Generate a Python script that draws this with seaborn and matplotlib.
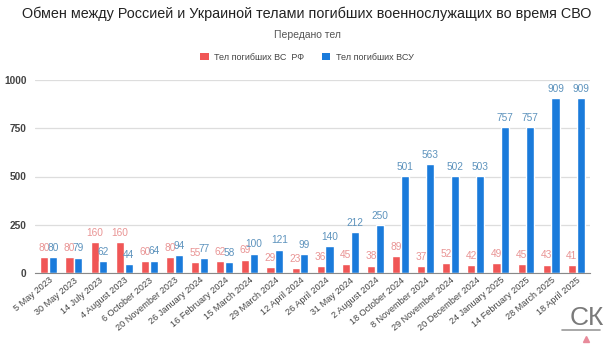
import matplotlib
matplotlib.use("Agg")
import matplotlib.pyplot as plt
import seaborn as sns
import pandas as pd
from matplotlib.patches import Patch
from matplotlib.lines import Line2D

dates = ["5 May 2023", "30 May 2023", "14 July 2023", "4 August 2023", "6 October 2023",
         "20 November 2023", "26 January 2024", "16 February 2024", "15 March 2024",
         "29 March 2024", "12 April 2024", "26 April 2024", "31 May 2024", "2 August 2024",
         "18 October 2024", "8 November 2024", "29 November 2024", "20 December 2024",
         "24 January 2025", "14 February 2025", "28 March 2025", "18 April 2025"]
rf = [80, 80, 160, 160, 60, 80, 55, 62, 69, 29, 23, 36, 45, 38, 89, 37, 52, 42, 49, 45, 43, 41]
vsu = [80, 79, 62, 44, 64, 94, 77, 58, 100, 121, 99, 140, 212, 250, 501, 563, 502, 503, 757, 757, 909, 909]
series = ["Тел погибших ВС  РФ", "Тел погибших ВСУ"]
colors = ["#f05656", "#1a7bdb"]
label_colors = ["#e99494", "#5d93bd"]

df = pd.DataFrame({
    "date": dates * 2,
    "value": rf + vsu,
    "series": [series[0]] * len(dates) + [series[1]] * len(dates),
})

sns.set_style("white")
plt.rcParams['font.family'] = ['Liberation Sans', 'DejaVu Sans']

fig = plt.figure(figsize=(6.14, 3.53), dpi=100)
ax = fig.add_axes([0.057, 0.227, 0.904, 0.546])

sns.barplot(data=df, x="date", y="value", hue="series", palette=colors,
            width=0.7, gap=0.08, ax=ax, legend=False, saturation=1)

for cont, lc in zip(ax.containers, label_colors):
    ax.bar_label(cont, padding=3, fontsize=7.3, color=lc)

ax.set_ylim(0, 1000)
ax.set_xlim(-0.55, len(dates) - 0.45)
ax.set_yticks([0, 250, 500, 750, 1000])
ax.yaxis.grid(True, color="#dddddd", linewidth=0.9)
ax.set_axisbelow(True)
for s in ["top", "right", "left"]:
    ax.spines[s].set_visible(False)
ax.spines["bottom"].set_color("#888888")
ax.set_xlabel("")
ax.set_ylabel("")
ax.tick_params(axis="y", length=0, labelsize=7.3, labelcolor="#444444", pad=6)
ax.tick_params(axis="x", length=0, labelsize=6.6, labelcolor="#444444", pad=2)
for lab in ax.get_yticklabels():
    lab.set_fontweight("bold")
plt.setp(ax.get_xticklabels(), rotation=40, ha="right", rotation_mode="anchor")

fig.text(0.5, 0.96, "Обмен между Россией и Украиной телами погибших военнослужащих во время СВО",
         ha="center", va="center", fontsize=10.4, color="#222222")
fig.text(0.5, 0.90, "Передано тел", ha="center", va="center", fontsize=7.5, color="#555555")

handles = [Patch(facecolor=c, edgecolor="none") for c in colors]
fig.legend(handles, series, loc="center", bbox_to_anchor=(0.5, 0.838), ncol=2, frameon=False,
           fontsize=6.5, handlelength=0.9, handleheight=0.9, columnspacing=2.0, handletextpad=0.6,
           labelcolor="#444444")

# watermark
fig.text(0.955, 0.10, "СК", ha="center", va="center", fontsize=19, color="#7a7a7a")
fig.add_artist(Line2D([0.915, 0.978], [0.065, 0.065], color="#9a9a9a", linewidth=1.2))
fig.add_artist(Line2D([0.955], [0.04], marker="^", color="#e88a9a", markersize=4, linestyle="none"))

fig.savefig("out.png", dpi=100, facecolor="white")
